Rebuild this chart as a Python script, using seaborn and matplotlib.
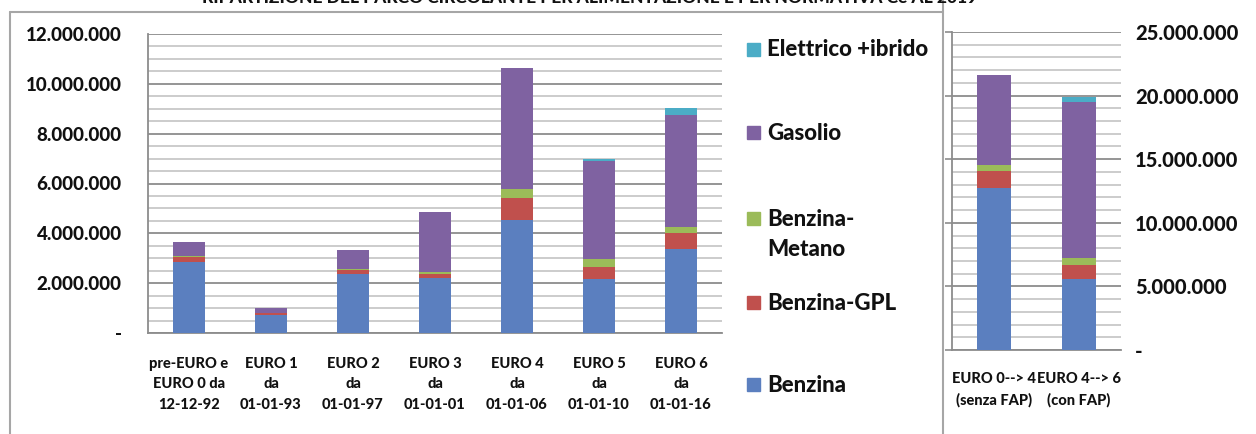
import numpy as np
import pandas as pd
import matplotlib
matplotlib.use('Agg')
import matplotlib.pyplot as plt
from matplotlib.lines import Line2D
from matplotlib.patches import Rectangle
from matplotlib.ticker import FuncFormatter, MultipleLocator
import seaborn as sns

sns.set_theme(style='white')
plt.rcParams['font.family'] = ['Lato', 'DejaVu Sans']

# dati: parco circolante per alimentazione e normativa
categorie = ['pre-EURO e\nEURO 0 da\n12-12-92', 'EURO 1\nda\n01-01-93', 'EURO 2\nda\n01-01-97',
             'EURO 3\nda\n01-01-01', 'EURO 4\nda\n01-01-06', 'EURO 5\nda\n01-01-10',
             'EURO 6\nda\n01-01-16']
benzina = [2840000, 720000, 2360000, 2220000, 4540000, 2170000, 3360000]
benzina_gpl = [230000, 80000, 170000, 150000, 890000, 480000, 640000]
benzina_metano = [40000, 10000, 50000, 70000, 340000, 310000, 240000]
gasolio = [560000, 180000, 750000, 2430000, 4860000, 3950000, 4520000]
elettrico = [0, 0, 0, 0, 10000, 70000, 260000]

categorie_fap = ['EURO 0--> 4\n(senza FAP)', 'EURO 4--> 6\n(con FAP)']
benzina_fap = [12700000, 5550000]
benzina_gpl_fap = [1360000, 1130000]
benzina_metano_fap = [470000, 520000]
gasolio_fap = [7070000, 12300000]
elettrico_fap = [0, 400000]

serie = ['Benzina', 'Benzina-GPL', 'Benzina-Metano', 'Gasolio', 'Elettrico +ibrido']
colori = ['#5b7fbf', '#c0504d', '#9bbb59', '#7f62a1', '#4bacc6']
testo = '#111111'
peso = 900


def stacked(ax, cats, layers, ymax, major, minor):
    df = pd.DataFrame(dict(zip(serie, layers)), index=cats)
    cum = df.cumsum(axis=1)
    # dal livello più alto al più basso, ogni barra copre la precedente
    for name, col in zip(serie[::-1], colori[::-1]):
        sns.barplot(x=cum.index, y=cum[name].values, ax=ax, color=col,
                    saturation=1, width=0.4, linewidth=0, zorder=3)
    ax.set_xlim(-0.5, len(cats) - 0.5)
    ax.set_ylim(0, ymax)
    ax.yaxis.set_major_locator(MultipleLocator(major))
    ax.yaxis.set_minor_locator(MultipleLocator(minor))
    ax.grid(which='major', axis='y', color='#8c8c8c', lw=1.3, zorder=0)
    ax.grid(which='minor', axis='y', color='#c8c8c8', lw=1.3, zorder=0)
    ax.set_axisbelow(True)
    ax.set_xticks(range(len(cats)))
    ax.set_xticklabels(cats)
    ax.set_xticks(np.arange(len(cats) + 1) - 0.5, minor=True)
    ax.tick_params(axis='x', which='major', length=0, pad=17)
    ax.tick_params(axis='x', which='minor', length=5, color='#8c8c8c', width=1.2, direction='out')
    ax.tick_params(axis='y', which='major', length=5, color='#8c8c8c', width=1.2, direction='out')
    ax.tick_params(axis='y', which='minor', length=0)
    for s in ['top', 'right']:
        ax.spines[s].set_visible(False)
    for s in ['left', 'bottom']:
        ax.spines[s].set_color('#8c8c8c')
        ax.spines[s].set_linewidth(1.3)
    ax.yaxis.set_major_formatter(FuncFormatter(
        lambda v, p: '-' if v == 0 else f'{int(v):,}'.replace(',', '.')))
    ax.set_xlabel('')
    ax.set_ylabel('')


fig = plt.figure(figsize=(12.56, 4.34), dpi=100)
W, H = 1256, 434

ax1 = fig.add_axes([148 / W, 1 - 333 / H, 574 / W, 299 / H])
stacked(ax1, categorie, [benzina, benzina_gpl, benzina_metano, gasolio, elettrico],
        12000000, 2000000, 500000)
ax1.tick_params(axis='y', labelsize=13.5, pad=14)

ax2 = fig.add_axes([952 / W, 1 - 350 / H, 169 / W, 318 / H])
stacked(ax2, categorie_fap, [benzina_fap, benzina_gpl_fap, benzina_metano_fap, gasolio_fap, elettrico_fap],
        25000000, 5000000, 1000000)
ax2.tick_params(axis='y', labelsize=14.5, labelleft=False, labelright=True, pad=5)
ax2.yaxis.set_tick_params(which='major', left=True, right=False)
ax2.tick_params(axis='x', which='major', pad=16)

for ax in (ax1, ax2):
    for t in ax.get_yticklabels():
        t.set_fontweight(peso)
        t.set_color(testo)
    for t in ax.get_xticklabels():
        t.set_fontsize(10.5)
        t.set_fontweight(peso)
        t.set_linespacing(1.6)
        t.set_color(testo)

# legenda
leg_y = [50, 133, 219, 303, 385]
leg_lab = ['Elettrico +ibrido', 'Gasolio', 'Benzina-', 'Benzina-GPL', 'Benzina']
leg_col = [colori[4], colori[3], colori[2], colori[1], colori[0]]
for y, lab, c in zip(leg_y, leg_lab, leg_col):
    fig.add_artist(Rectangle((747 / W, 1 - (y + 6) / H), 13 / W, 13 / H,
                             transform=fig.transFigure, color=c))
    fig.text(767 / W, 1 - y / H, lab, fontsize=16, fontweight=peso, va='center', color=testo)
fig.text(767 / W, 1 - 250 / H, 'Metano', fontsize=16, fontweight=peso, va='center', color=testo)

# cornici
gray = '#a6a6a6'
fig.add_artist(Line2D([10 / W, 943 / W], [1 - 12 / H, 1 - 12 / H], color=gray, lw=1.5))
fig.add_artist(Line2D([10 / W, 10 / W], [0, 1 - 12 / H], color=gray, lw=1.5))
fig.add_artist(Line2D([943 / W, 943 / W], [0, 1], color=gray, lw=1.5))

fig.text(590 / W, 1 + 2 / H, 'RIPARTIZIONE DEL PARCO CIRCOLANTE PER ALIMENTAZIONE E PER NORMATIVA Ce AL 2019',
         fontsize=12.5, fontweight=peso, ha='center', va='center', color=testo)

fig.savefig('out.png', dpi=100)
